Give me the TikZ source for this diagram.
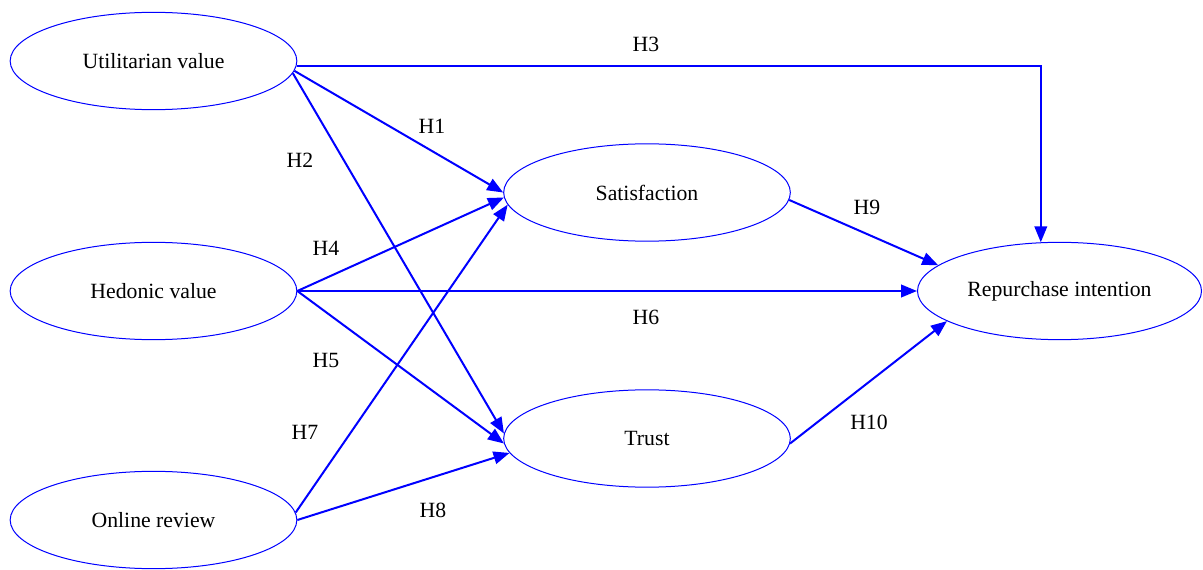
\documentclass[tikz,border=0pt]{standalone}
\usepackage{fontspec}
\setmainfont{Liberation Serif}
\usetikzlibrary{shapes.geometric,arrows.meta}
\definecolor{edgeblue}{HTML}{0000FF}
\begin{document}
\begin{tikzpicture}[x=0.75pt,y=-0.75pt,
  construct/.style={ellipse,draw=edgeblue,line width=0.75pt,inner sep=0pt,
    minimum width=215pt,minimum height=73pt,font=\fontsize{16.3}{19}\selectfont},
  link/.style={draw=edgeblue,line width=1.5pt,
    -{Triangle[length=12pt,width=9.5pt]}},
  hlabel/.style={font=\fontsize{16.3}{19}\selectfont,inner sep=0pt}]
\useasboundingbox (0,0) rectangle (1203,570);
\node[construct] (u) at (153.5,61) {Utilitarian value};
\node[construct] (h) at (153.5,291) {Hedonic value};
\node[construct] (o) at (153.5,520) {Online review};
\node[construct] (s) at (647,192.5) {Satisfaction};
\node[construct] (t) at (647,438.5) {Trust};
\node[construct,minimum width=213pt] (r) at (1059.5,291) {Repurchase intention};
% edges
\draw[link] (u.-2) -| (r.111);
\draw[link] (u.-4.5) -- (s.180);
\draw[link] (u.-5.8) -- (t.178.6);
\draw[link] (h.east) -- (s.182.6);
\draw[link] (h.east) -- (r.west);
\draw[link] (h.east) -- (t.182);
\draw[link] (o.3) -- (s.185);
\draw[link] (o.0) -- (t.186);
\draw[link] (s.-3) -- (r.168);
\draw[link] (t.-2.2) -- (r.195);
% labels
\node[hlabel] (l3) at (646,44) {H3};
\node[hlabel] (l1) at (432,126) {H1};
\node[hlabel] (l2) at (300,160) {H2};
\node[hlabel] (l4) at (326,248) {H4};
\node[hlabel] (l6) at (646,317) {H6};
\node[hlabel] (l5) at (326,360) {H5};
\node[hlabel] (l7) at (305,432) {H7};
\node[hlabel] (l8) at (433,510) {H8};
\node[hlabel] (l9) at (867,207) {H9};
\node[hlabel] (l10) at (869,422) {H10};
\end{tikzpicture}
\end{document}
